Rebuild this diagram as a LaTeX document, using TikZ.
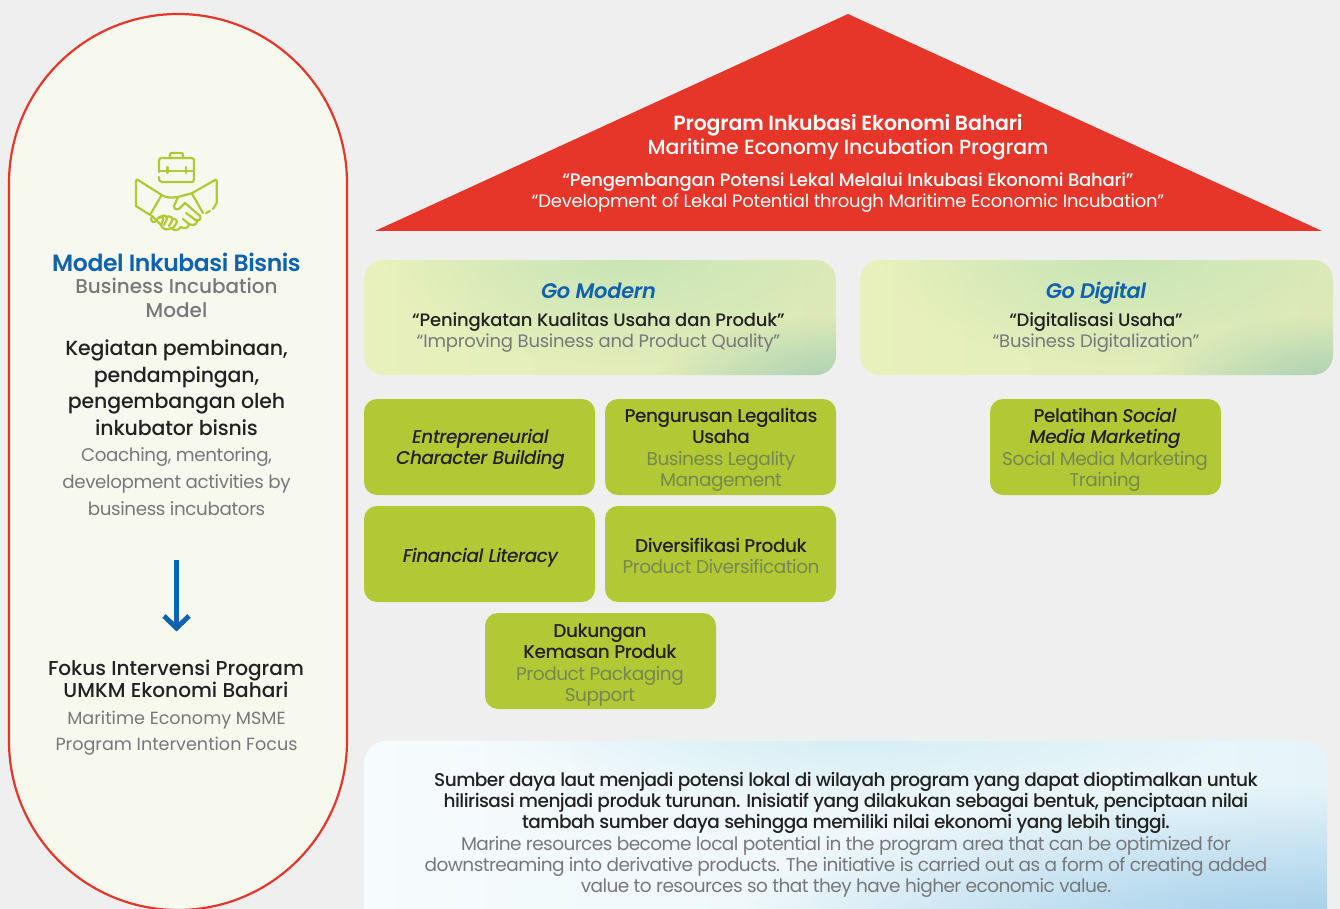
\documentclass[tikz,border=0pt]{standalone}
\usepackage{fontspec}
\setmainfont{Poppins}
\newfontfamily\pmed{Poppins Medium}[ItalicFont={Poppins Medium Italic}]
\newfontfamily\psem{Poppins SemiBold}[ItalicFont={Poppins SemiBold Italic}]
\usetikzlibrary{fadings}
\tikzfading[name=softblob,inner color=transparent!0,outer color=transparent!100]
\definecolor{bgc}{HTML}{EFEFEF}
\definecolor{ovalf}{HTML}{F7F9EE}
\definecolor{redc}{HTML}{E6362A}
\definecolor{bluec}{HTML}{0F62AE}
\definecolor{limec}{HTML}{B3C835}
\definecolor{inkc}{HTML}{222222}
\definecolor{greyc}{HTML}{77787B}
\definecolor{greyl}{HTML}{76884F}
\definecolor{gA}{HTML}{E8F1BC}
\definecolor{gB}{HTML}{DDEAB8}
\definecolor{gT}{HTML}{C8E4B6}
\definecolor{gC}{HTML}{A8CFB2}
\definecolor{wA}{HTML}{F6FBFD}
\definecolor{wM}{HTML}{E6F4F9}
\definecolor{wB}{HTML}{D2EDF3}
\definecolor{wC}{HTML}{9CCBE8}
\newcommand{\tl}[2]{\fontsize{#1}{#2}\selectfont}
\newcommand{\ls}[1]{\addfontfeature{LetterSpace=#1}}
\newcommand{\gl}{\normalfont\ls{-2.5}\color{greyl}}
\newcommand{\gq}{\normalfont\ls{-1.25}\color{greyc}}
\tikzset{
  x=1pt,y=-1pt,
  txt/.style={align=center,inner sep=0pt,anchor=center},
  ico/.style={draw=limec,line width=2.2pt,line cap=round,line join=round},
  limebox/.style={fill=limec,rounded corners=13pt,draw=none},
  softbox/.style={rounded corners=20pt},
  bk/.style={text=inkc},
  gr/.style={text=greyc},
}
\begin{document}
\begin{tikzpicture}
\useasboundingbox (0,0) rectangle (1340,909);
\fill[bgc] (0,0) rectangle (1340,909);
% left oval
\begin{scope}
\clip (0,0) rectangle (1340,909);
\path[fill=ovalf,draw=redc,line width=2.2pt] (178,14) .. controls (84.7,14) and (9,89.7) .. (9,183) -- (9,741) .. controls (9,834.3) and (84.7,910) .. (178,910) .. controls (271.3,910) and (347,834.3) .. (347,741) -- (347,183) .. controls (347,89.7) and (271.3,14) .. (178,14) -- cycle;
\end{scope}
% roof
\fill[redc] (848,14) -- (1322,231) -- (375,231) -- cycle;
% soft boxes
\begin{scope}
\clip[softbox] (364,260) rectangle (836,375);
\shade[left color=gA,right color=gB] (364,260) rectangle (836,375);
\fill[gT,path fading=softblob] (625,250) ellipse [x radius=240,y radius=115];
\fill[gC,path fading=softblob] (836,385) ellipse [x radius=180,y radius=70];
\end{scope}
\begin{scope}
\clip[softbox] (860,260) rectangle (1333,375);
\shade[left color=gA,right color=gB] (860,260) rectangle (1333,375);
\fill[gT,path fading=softblob] (1121,250) ellipse [x radius=240,y radius=115];
\fill[gC,path fading=softblob] (1333,385) ellipse [x radius=180,y radius=70];
\end{scope}
\begin{scope}
\clip (0,0) rectangle (1340,909);
\clip[rounded corners=22pt] (364,741) rectangle (1327,950);
\shade[left color=wA,right color=wM] (364,741) rectangle (1327,909);
\fill[wB,path fading=softblob] (860,730) ellipse [x radius=360,y radius=75];
\fill[wC,path fading=softblob] (1327,935) ellipse [x radius=600,y radius=150];
\end{scope}
% lime boxes
\path[limebox] (364,399) rectangle (595,495);
\path[limebox] (605,399) rectangle (836,495);
\path[limebox] (364,506) rectangle (595,602);
\path[limebox] (605,506) rectangle (836,602);
\path[limebox] (485,613) rectangle (716,709);
\path[limebox] (990,399) rectangle (1221,495);
% icon
\begin{scope}[ico]
\draw (159,172) -- (159,161) .. controls (159,158) and (160,158) .. (162,158) -- (191,158) .. controls (194,158) and (194,159) .. (194,161) -- (194,179) .. controls (194,182) and (193,182) .. (191,182) -- (162,182) .. controls (160,182) and (159,181) .. (159,177);
\draw (170,158) -- (170,155) .. controls (170,153) and (171,153) .. (172,153) -- (181,153) .. controls (182,153) and (183,153) .. (183,155) -- (183,158);
\draw (159,171) -- (194,171);
\draw (167.5,167) -- (167.5,173);
\draw (186,167) -- (186,173);
\draw (150,215) -- (136,206) -- (136,181) .. controls (136,180) and (137,179) .. (138,180) -- (161.7,195) -- (150,215);
\draw (203,213) -- (191.7,193.3) -- (215,180) .. controls (216,179) and (216.7,180) .. (216.7,181) -- (216.7,203) -- (213,209);
\draw (206,213) -- (210,211);
\draw (161.7,195) .. controls (166,198) and (172,198) .. (178,197) -- (191.7,193.3);
\draw (178,197) -- (174,206) .. controls (174,210) and (178,210) .. (180,208) -- (185,203) -- (200,216) .. controls (202,220) and (198,222) .. (194,219);
\draw (186,213) -- (197,221) .. controls (197,225) and (193,226) .. (189,224) -- (183,219);
\draw (189,224) .. controls (188,229) and (184,229) .. (181,227);
\draw (181,227) .. controls (178,231) and (174,231) .. (171,228);
\draw (171,228) .. controls (167,231) and (162,229) .. (161,225) -- (152,216);
\draw (152,216) .. controls (150,220) and (152,223) .. (155,222) -- (158,218) .. controls (160,216) and (164,217) .. (163,220) -- (161,225);
\draw (159,218) .. controls (163,214) and (167,215) .. (167,219) -- (164,225);
\draw (166,217) .. controls (170,215) and (174,218) .. (172,221) -- (169,226);
\draw (172,219) .. controls (176,218) and (178,221) .. (176,224) -- (173,228);
\end{scope}
% arrow
\draw[bluec,line width=5pt] (176.5,560) -- (176.5,628);
\draw[bluec,line width=5pt,line join=miter] (164,616) -- (176.5,628) -- (189,616);
% left text
\node (mt) [txt,text=bluec,font=\psem\ls{-1.8}\tl{23.5}{24}] at (176.5,262) {Model Inkubasi Bisnis};
\node (mb) [txt,gr,font=\pmed\tl{20}{24}] at (176.5,298) {Business Incubation\\Model};
\node (ma) [txt,bk,font=\pmed\ls{-.8}\tl{20.5}{26.5}] at (176.5,387.5) {Kegiatan pembinaan,\\pendampingan,\\pengembangan oleh\\inkubator bisnis};
\node (mc) [txt,gr,font=\ls{-2}\tl{18.3}{27}] at (176.5,482) {Coaching, mentoring,\\development activities by\\business incubators};
\node (fa) [txt,bk,font=\pmed\tl{20.1}{20.7}] at (176,679) {Fokus Intervensi Program\\UMKM Ekonomi Bahari};
\node (fb) [txt,gr,font=\tl{17.6}{26}] at (176.5,733) {Maritime Economy MSME\\Program Intervention Focus};
% roof text
\node (ra) [txt,text=white,font=\psem\ls{-.8}\tl{20.5}{24.5}] at (848,137.5) {Program Inkubasi Ekonomi Bahari\\\pmed\ls{-.8} Maritime Economy Incubation Program};
\node (rb) [txt,text=white,font=\pmed\ls{-1.1}\tl{18}{21.5}] at (848,192.5) {“Pengembangan Potensi Lekal Melalui Inkubasi Ekonomi Bahari”\\\normalfont\ls{-1.2} “Development of Lekal Potential through Maritime Economic Incubation”};
% go boxes
\node (ga) [txt,text=bluec,font=\psem\itshape\ls{-1.4}\tl{21}{24}] at (598.5,291) {Go Modern};
\node (gb) [txt,bk,font=\pmed\ls{-1.1}\tl{18}{21} ] at (598.5,332.8) {“Peningkatan Kualitas Usaha dan Produk”\\\gq “Improving Business and Product Quality”};
\node (gc) [txt,text=bluec,font=\psem\itshape\ls{-2.4}\tl{21}{24}] at (1096,293) {Go Digital};
\node (gd) [txt,bk,font=\pmed\ls{-1.1}\tl{18}{21}] at (1096,332.8) {“Digitalisasi Usaha”\\\gq “Business Digitalization”};
% lime text
\node (la) [txt,bk,font=\pmed\itshape\ls{-2.5}\tl{18.5}{21}] at (480.5,449) {Entrepreneurial\\Character Building};
\node (lb) [txt,bk,font=\pmed\ls{-2.5}\tl{18.5}{21.3}] at (721,450) {Pengurusan Legalitas\\Usaha\\\gl Business Legality\\\gl Management};
\node (lc) [txt,bk,font=\pmed\itshape\ls{-2.5}\tl{18.5}{21}] at (480.5,558) {Financial Literacy};
\node (ld) [txt,bk,font=\pmed\ls{-2.5}\tl{18.5}{21.3}] at (721,556) {Diversifikasi Produk\\\gl Product Diversification};
\node (le) [txt,bk,font=\pmed\ls{-2.5}\tl{18.5}{21.3}] at (600,665) {Dukungan\\Kemasan Produk\\\gl Product Packaging\\\gl Support};
\node (lf) [txt,bk,font=\pmed\ls{-2.5}\tl{18.5}{21.3}] at (1105,450) {Pelatihan \itshape Social\\\itshape Media Marketing\\\gl Social Media Marketing\\\gl Training};
% bottom text
\node (ba) [txt,bk,font=\pmed\ls{-2.9}\tl{18.5}{21}] at (846,802.5) {Sumber daya laut menjadi potensi lokal di wilayah program yang dapat dioptimalkan untuk\\hilirisasi menjadi produk turunan. Inisiatif yang dilakukan sebagai bentuk, penciptaan nilai\\tambah sumber daya sehingga memiliki nilai ekonomi yang lebih tinggi.};
\node (bb) [txt,gr,font=\ls{-3}\tl{18.5}{21}] at (846,866.5) {Marine resources become local potential in the program area that can be optimized for\\downstreaming into derivative products. The initiative is carried out as a form of creating added\\value to resources so that they have higher economic value.};
\end{tikzpicture}
\end{document}
